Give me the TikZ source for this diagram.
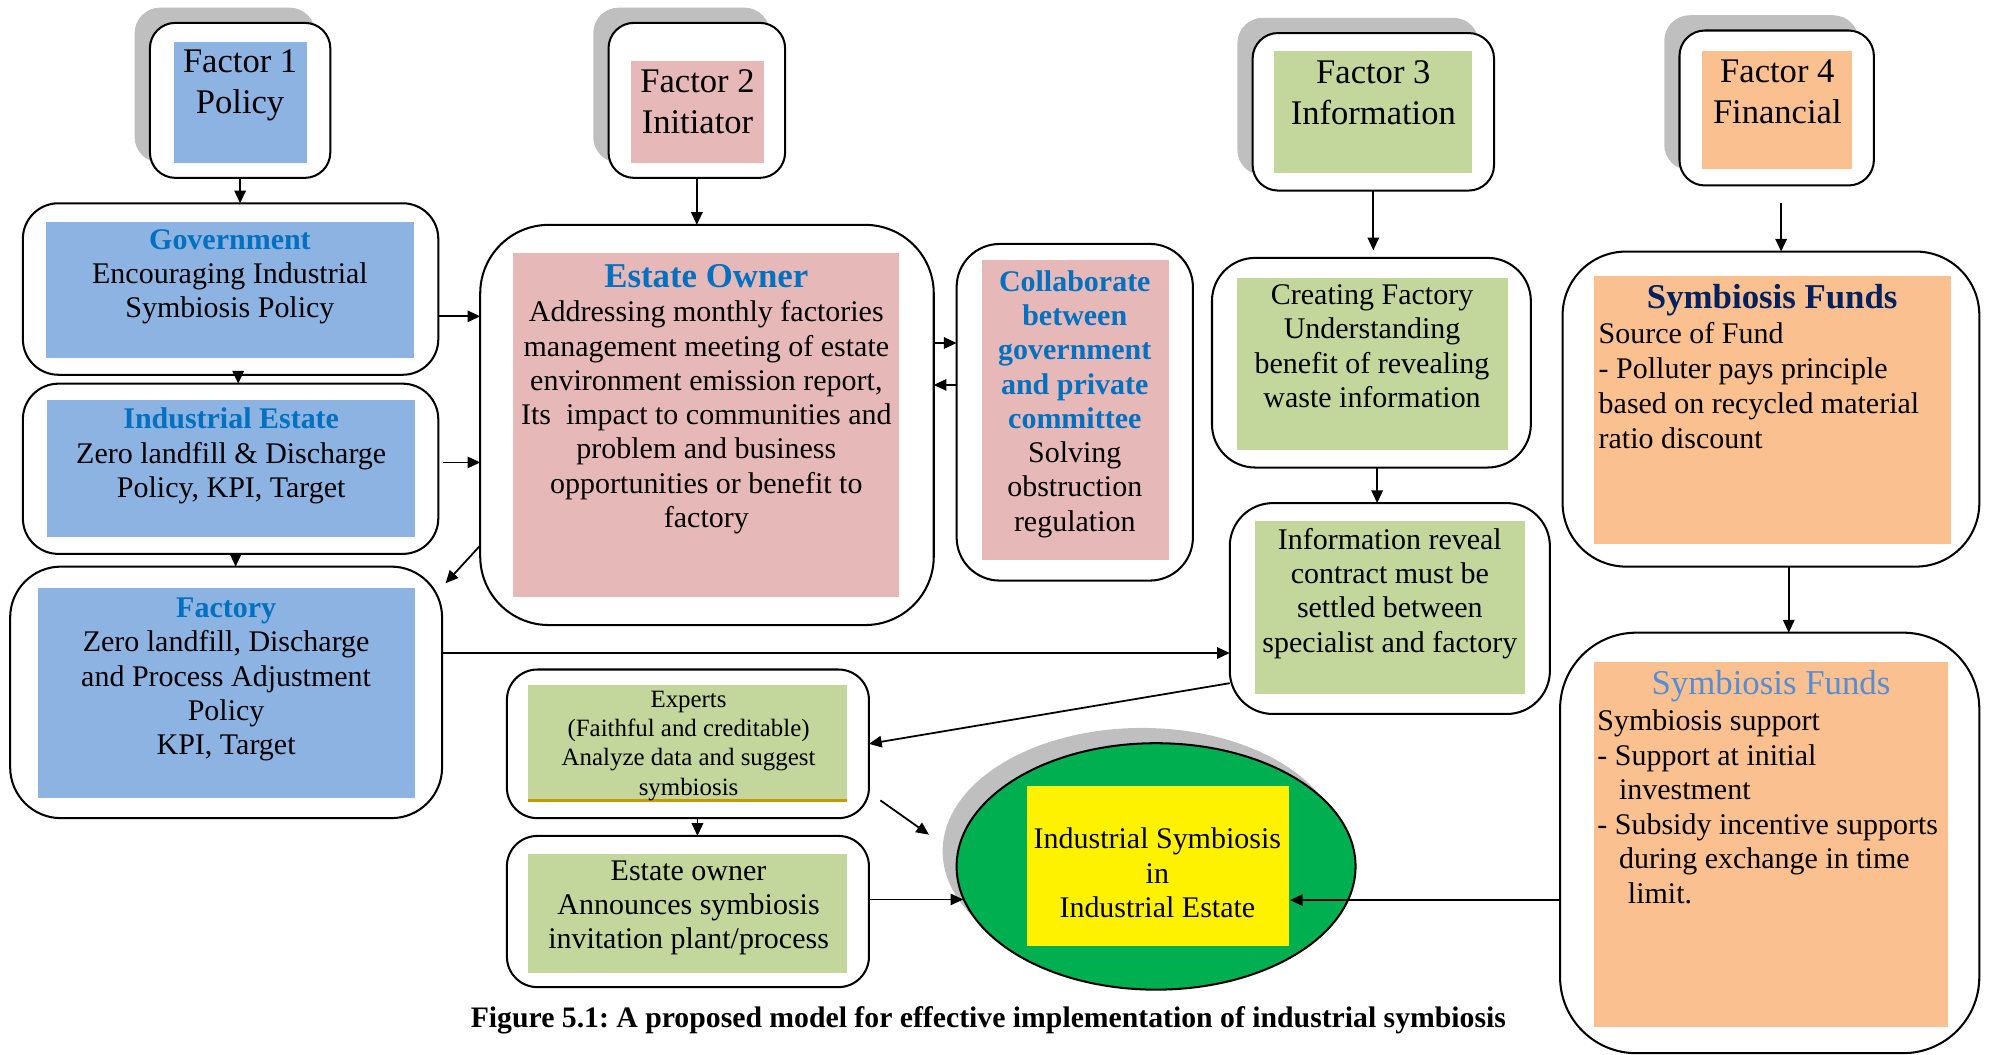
\documentclass[tikz,border=0pt]{standalone}
\usepackage{fontspec}
\setmainfont{Liberation Serif}
\usetikzlibrary{arrows.meta,shapes.geometric,fit,calc}
\definecolor{fblue}{HTML}{8DB3E2}
\definecolor{fpink}{HTML}{E6B9B8}
\definecolor{fgreen}{HTML}{C3D69B}
\definecolor{forange}{HTML}{FAC090}
\definecolor{tblue}{HTML}{0070C0}
\definecolor{tnavy}{HTML}{002060}
\definecolor{tlight}{HTML}{558ED5}
\definecolor{shadegray}{HTML}{BFBFBF}
\definecolor{isgreen}{HTML}{00B050}
\definecolor{goldline}{HTML}{C89800}
\newcommand\bluetitle[1]{\textbf{\color{tblue}#1}}
\frenchspacing
\begin{document}
\begin{tikzpicture}[x=0.5pt,y=-0.5pt,
 rbox/.style={draw, line width=0.8pt, fill=white, inner sep=0pt, outer sep=0pt, rounded corners=#1},
 shadowbox/.style={fill=shadegray, rounded corners=#1},
 arr/.style={line width=0.7pt, -{Triangle[length=5pt,width=4.5pt]}},
 body/.style={font=\fontsize{11.8}{13.5}\selectfont, align=center, inner sep=0pt},
 ftext/.style={font=\fontsize{13.6}{16}\selectfont, align=center, inner sep=0pt},
 small/.style={font=\fontsize{9.8}{11.5}\selectfont, align=center, inner sep=0pt},
 bigtitle/.style={font=\fontsize{13.7}{16}\selectfont, inner sep=0pt},
]
\useasboundingbox (0,0) rectangle (1568,830);

% ---------- Factor 1 column ----------
\fill[shadowbox=10pt] (106,6) rectangle (248,128);
\node[rbox=10pt, fit={(118,18) (260,140)}] (f1) {};
\fill[fblue] (137,33) rectangle (242,128);
\node[ftext] (f1t) at (189,67) {Factor 1\\Policy};

\node[rbox=14pt, fit={(18,160) (345,295)}] (gov) {};
\fill[fblue] (36,175) rectangle (326,282);
\node[body] (govt) at (181,218) {\bluetitle{Government}\\Encouraging Industrial\\Symbiosis Policy};

\node[rbox=14pt, fit={(18,302) (345,436)}] (ie) {};
\fill[fblue] (37,315) rectangle (327,423);
\node[body] (iet) at (182,359) {\bluetitle{Industrial Estate}\\Zero landfill \& Discharge\\Policy, KPI, Target};

\node[rbox=20pt, fit={(8,446) (348,644)}] (fac) {};
\fill[fblue] (30,463) rectangle (327,628);
\node[body] (fact) at (178,535) {\bluetitle{Factory}\\Zero landfill, Discharge\\and Process Adjustment\\Policy\\KPI, Target};

% ---------- Factor 2 column ----------
\fill[shadowbox=10pt] (467,6) rectangle (606,128);
\node[rbox=10pt, fit={(479,18) (618,140)}] (f2) {};
\fill[fpink] (497,48) rectangle (601,128);
\node[ftext] (f2t) at (549,80) {Factor 2\\Initiator};

\node[rbox=27pt, fit={(378,177) (735,492)}] (eo) {};
\fill[fpink] (404,199) rectangle (708,470);
\node[bigtitle] (eott) at (556,217) {\bluetitle{Estate Owner}};
\node[body] (eot) at (556,328.5) {Addressing monthly factories\\management meeting of estate\\environment emission report,\\Its\ \ impact to communities and\\problem and business\\opportunities or benefit to\\factory};

\node[rbox=17pt, fit={(753,192) (939,457)}] (col) {};
\fill[fpink] (773,205) rectangle (920,441);
\node[body] (colt) at (846,318) {\bluetitle{Collaborate}\\\bluetitle{between}\\\bluetitle{government}\\\bluetitle{and private}\\\bluetitle{committee}\\Solving\\obstruction\\regulation};

% ---------- Factor 3 column ----------
\fill[shadowbox=10pt] (974,14) rectangle (1164,138);
\node[rbox=10pt, fit={(986,26) (1176,150)}] (f3) {};
\fill[fgreen] (1003,40) rectangle (1159,136);
\node[ftext] (f3t) at (1081,73) {Factor 3\\Information};

\node[rbox=17pt, fit={(954,203) (1205,368)}] (cre) {};
\fill[fgreen] (974,219) rectangle (1187,354);
\node[body] (cret) at (1080,272.5) {Creating Factory\\Understanding\\benefit of revealing\\waste information};

\node[rbox=17pt, fit={(968,396) (1220,562)}] (info) {};
\fill[fgreen] (988,410) rectangle (1200,546);
\node[body] (infot) at (1094,467) {Information reveal\\contract must be\\settled between\\specialist and factory};

% ---------- Factor 4 column ----------
\fill[shadowbox=10pt] (1310,12) rectangle (1463,134);
\node[rbox=10pt, fit={(1322,24) (1475,146)}] (f4) {};
\fill[forange] (1340,40) rectangle (1458,133);
\node[ftext] (f4t) at (1399,72.5) {Factor 4\\Financial};

\node[rbox=25pt, fit={(1230,198) (1558,446)}] (sf1) {};
\fill[forange] (1255,217) rectangle (1536,428);
\node[bigtitle] (sf1tt) at (1395,236) {\textbf{\color{tnavy}Symbiosis Funds}};
\node[body, align=left, anchor=west, font=\fontsize{11.8}{13.8}\selectfont] (sf1t) at (1258,303.5) {Source of Fund\\- Polluter pays principle\\based on recycled material\\ratio discount};

\node[rbox=30pt, fit={(1228,498) (1558,829)}] (sf2) {};
\fill[forange] (1255,521) rectangle (1533,808);
\node[bigtitle] (sf2tt) at (1394,540) {\color{tlight}Symbiosis Funds};
\node[body, align=left, anchor=west, font=\fontsize{11.8}{13.6}\selectfont] (sf2t) at (1257,635) {Symbiosis support\\- Support at initial\\\hspace*{8.5pt}investment\\- Subsidy incentive supports\\\hspace*{8.5pt}during exchange in time\\\hspace*{12pt}limit.};

% ---------- Experts / Estate owner ----------
\node[rbox=12pt, fit={(399,527) (684,644)}] (exp) {};
\fill[fgreen] (416,539) rectangle (667,631);
\draw[goldline, line width=1.2pt] (416,630) -- (667,630);
\node[small] (expt) at (542,587) {Experts\\(Faithful and creditable)\\Analyze data and suggest\\symbiosis};

\node[rbox=12pt, fit={(399,658) (684,777)}] (eown) {};
\fill[fgreen] (416,672) rectangle (667,766);
\node[body] (eownt) at (542,714.5) {Estate owner\\Announces symbiosis\\invitation plant/process};

% ---------- Industrial symbiosis ellipse ----------
\node[ellipse, fill=shadegray, minimum width=157pt, minimum height=97pt, inner sep=0pt] (issh) at (899,670) {};
\node[ellipse, draw, line width=0.8pt, fill=isgreen, minimum width=157pt, minimum height=97pt, inner sep=0pt] (is) at (910,682) {};
\node[fill=yellow, inner sep=0pt, fit={(808,619) (1015,745)}] (isbox) {};
\node[body] (ist) at (911,687) {Industrial Symbiosis\\in\\Industrial Estate};

% ---------- caption ----------
\node[font=\bfseries\fontsize{11.7}{13}\selectfont, inner sep=0pt] (cap) at (778,803) {Figure 5.1: A proposed model for effective implementation of industrial symbiosis};

% ---------- connectors ----------
\draw[arr] (f1.south) -- (f1.south |- gov.north);
\draw[arr] ([xshift=3pt]gov.south) -- ([xshift=3pt]ie.north);
\draw[arr] ([xshift=2pt]ie.south) -- ([xshift=2pt]ie.south |- fac.north);
\draw[arr] ([yshift=-10.75pt]gov.east) -- ([yshift=-10.75pt]gov.east -| eo.west);
\draw[arr, shorten <=2pt] ([yshift=2.5pt]ie.east) -- ([yshift=2.5pt]ie.east -| eo.west);
\draw[arr, shorten >=2pt] (eo.208.4) -- (fac.26.4);
\draw[arr] (f2.south) -- (f2.south |- eo.north);
\draw[arr] ([yshift=32.25pt]eo.east) -- ([yshift=32.25pt]eo.east -| col.west);
\draw[arr] ([yshift=10.75pt]col.west) -- ([yshift=10.75pt]col.west -| eo.east);
\draw[arr, shorten >=3pt] (f3.south) -- (f3.south |- cre.north);
\draw[arr] ([xshift=2.25pt]cre.south) -- ([xshift=2.25pt]cre.south |- info.north);
\draw[arr] ([yshift=15.5pt]fac.east) -- ([yshift=15.5pt]fac.east -| info.west);
\draw[arr] (info.205.1) -- (exp.east);
\draw[arr, shorten <=7pt] ([xshift=1.75pt]f4.south) -- ([xshift=1.75pt]f4.south |- sf1.north);
\draw[arr] ([xshift=7pt]sf1.south) -- ([xshift=7pt]sf1.south |- sf2.north);
\draw[arr] ([yshift=-22.5pt]sf2.west) -- ([yshift=-22.5pt]sf2.west -| isbox.east);
\draw[arr] ([shift={(4.5pt,7pt)}]exp.south east) -- ([shift={(-10.5pt,12.5pt)}]is.west);
\draw[arr] ([xshift=3.75pt]exp.south) -- ([xshift=3.75pt]eown.north);
\coordinate (eoarr) at ([yshift=4.75pt]eown.east);
\draw[arr, shorten >=-3pt] (eoarr) -- (eoarr -| is.west);
\end{tikzpicture}
\end{document}
